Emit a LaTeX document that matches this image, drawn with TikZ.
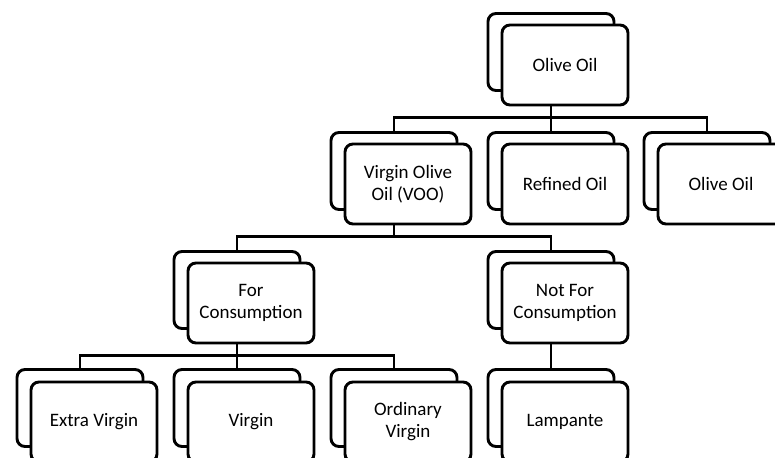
\documentclass[tikz,border=0pt]{standalone}
\usepackage{fontspec}
\setmainfont{Carlito}
\begin{document}
\begin{tikzpicture}[x=1pt,y=-1pt,
  back/.style={draw,line width=2.9pt,rounded corners=8pt,fill=white,
    minimum width=126pt,minimum height=77pt},
  front/.style={back,minimum height=80pt,align=center,
    font=\fontsize{19}{22}\selectfont},
  link/.style={line width=2.7pt}]
  \useasboundingbox (0,0) rectangle (775,457);
  % top
  \node[back] (oilb) at (551,52) {};
  \node[front] (oil) at (565,65) {Olive Oil};
  % second row
  \node[back] (voob) at (394,171) {};
  \node[front] (voo) at (408,184) {Virgin Olive\\Oil (VOO)};
  \node[back] (refb) at (551,171) {};
  \node[front] (ref) at (565,184) {Refined Oil};
  \node[back] (olvb) at (707,171) {};
  \node[front] (olv) at (721,184) {Olive Oil};
  % third row
  \node[back] (forb) at (237,290) {};
  \node[front] (for) at (251,303) {For\\Consumption};
  \node[back] (notb) at (551,290) {};
  \node[front] (not) at (565,303) {Not For\\Consumption};
  % bottom row
  \node[back] (extb) at (80,408) {};
  \node[front] (ext) at (94,422) {Extra Virgin};
  \node[back] (virb) at (237,408) {};
  \node[front] (vir) at (251,422) {Virgin};
  \node[back] (ordb) at (394,408) {};
  \node[front] (ord) at (408,422) {Ordinary\\Virgin};
  \node[back] (lamb) at (551,408) {};
  \node[front] (lam) at (565,422) {Lampante};
  % connectors
  \draw[link] (oilb.south |- oil.south) -- ++(0,11) -| (voob.north);
  \draw[link] (oilb.south |- oil.south) -- ++(0,11) -| (refb.north);
  \draw[link] (oilb.south |- oil.south) -- ++(0,11) -| (olvb.north);
  \draw[link] (voob.south |- voo.south) -- ++(0,11) -| (forb.north);
  \draw[link] (voob.south |- voo.south) -- ++(0,11) -| (notb.north);
  \draw[link] (forb.south |- for.south) -- ++(0,11) -| (extb.north);
  \draw[link] (forb.south |- for.south) -- ++(0,11) -| (virb.north);
  \draw[link] (forb.south |- for.south) -- ++(0,11) -| (ordb.north);
  \draw[link] (notb.south |- not.south) -- (lamb.north);
\end{tikzpicture}
\end{document}
